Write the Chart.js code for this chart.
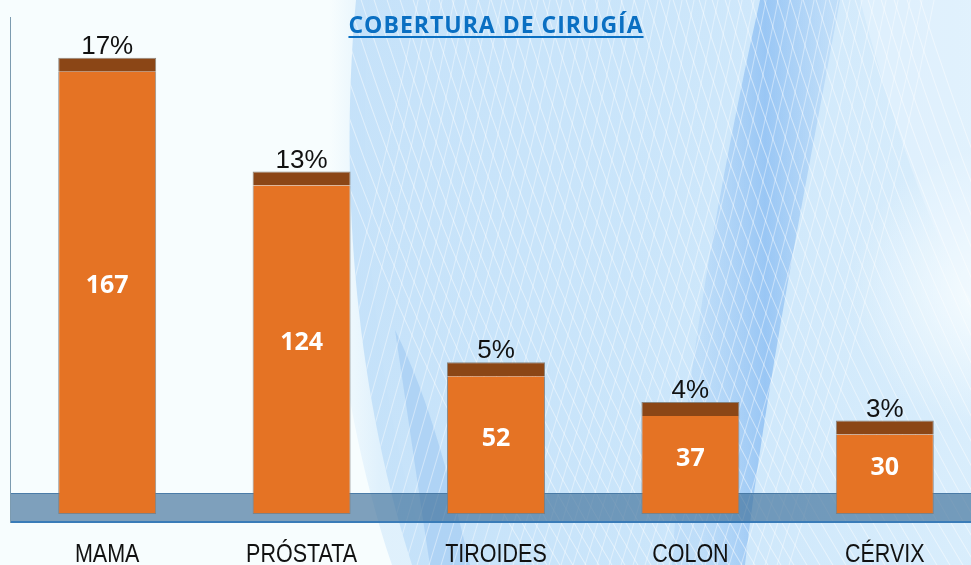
<!DOCTYPE html>
<html>
<head>
<meta charset="utf-8">
<script src="https://cdn.jsdelivr.net/npm/chart.js@4/dist/chart.umd.min.js"></script>
<style>
  html, body { margin: 0; padding: 0; background: #f7fdfe; overflow: hidden; }
  #wrap { width: 971px; height: 565px; overflow: hidden; }
  canvas { display: block; }
</style>
</head>
<body>
<div id="wrap"><canvas id="c" width="982" height="565"></canvas></div>
<script>
// Surgery coverage by cancer site
const categories = ['MAMA', 'PRÓSTATA', 'TIROIDES', 'COLON', 'CÉRVIX'];
const cases = [167, 124, 52, 37, 30];
const shares = ['17%', '13%', '5%', '4%', '3%'];
const chartTitle = 'COBERTURA DE CIRUGÍA';

// decorative top cap on each column (axis units)
const CAP = 5.3;

// light blue ribbon backdrop
function paintBackdrop(ctx, w, h) {
  ctx.save();
  ctx.fillStyle = '#f7fdfe';
  ctx.fillRect(0, 0, w, h);

  // soft fade-in on the left edge of the sheet
  const edge = ctx.createLinearGradient(330, 0, 380, 0);
  edge.addColorStop(0, 'rgba(200,228,250,0)');
  edge.addColorStop(1, 'rgba(200,228,250,0.5)');
  ctx.beginPath();
  ctx.moveTo(330, 0);
  ctx.bezierCurveTo(318, 170, 330, 380, 392, h);
  ctx.lineTo(430, h);
  ctx.bezierCurveTo(370, 380, 356, 170, 370, 0);
  ctx.closePath();
  ctx.fillStyle = edge;
  ctx.fill();

  // main sheet
  ctx.beginPath();
  ctx.moveTo(356, 0);
  ctx.bezierCurveTo(340, 170, 352, 380, 412, h);
  ctx.lineTo(w, h);
  ctx.lineTo(w, 0);
  ctx.closePath();
  const g = ctx.createLinearGradient(350, 0, w, 0);
  g.addColorStop(0, 'rgba(194,224,249,0.92)');
  g.addColorStop(0.45, 'rgba(198,227,250,0.92)');
  g.addColorStop(1, 'rgba(214,236,252,0.9)');
  ctx.fillStyle = g;
  ctx.fill();
  ctx.save();
  ctx.clip();

  // paler right side
  const pale = ctx.createRadialGradient(990, 290, 10, 990, 290, 140);
  pale.addColorStop(0, 'rgba(248,253,255,0.9)');
  pale.addColorStop(1, 'rgba(248,253,255,0)');
  ctx.fillStyle = pale;
  ctx.fillRect(830, 100, 170, 380);
  ctx.beginPath();
  ctx.moveTo(860, 0);
  ctx.bezierCurveTo(900, 150, 940, 260, 990, 330);
  ctx.lineTo(990, 0);
  ctx.closePath();
  ctx.fillStyle = 'rgba(236,247,254,0.45)';
  ctx.fill();

  // darker diagonal ribbon
  const rib = ctx.createLinearGradient(700, 0, 830, 0);
  rib.addColorStop(0, 'rgba(110,170,238,0.15)');
  rib.addColorStop(0.5, 'rgba(100,165,238,0.5)');
  rib.addColorStop(1, 'rgba(110,170,238,0.2)');
  ctx.beginPath();
  ctx.moveTo(760, 0);
  ctx.lineTo(840, 0);
  ctx.bezierCurveTo(805, 190, 765, 390, 745, h);
  ctx.lineTo(672, h);
  ctx.bezierCurveTo(684, 380, 720, 180, 760, 0);
  ctx.closePath();
  ctx.fillStyle = rib;
  ctx.fill();

  // streak near the left edge
  ctx.beginPath();
  ctx.moveTo(395, 330);
  ctx.bezierCurveTo(410, 430, 420, 500, 430, h);
  ctx.lineTo(470, h);
  ctx.bezierCurveTo(450, 480, 430, 400, 395, 330);
  ctx.closePath();
  ctx.fillStyle = 'rgba(120,175,235,0.3)';
  ctx.fill();

  // fine mesh of white strands
  ctx.lineWidth = 1.1;
  ctx.strokeStyle = 'rgba(255,255,255,0.45)';
  for (let i = 0; i < 50; i++) {
    const x0 = 280 + i * 13;
    ctx.beginPath();
    ctx.moveTo(x0, -10);
    ctx.bezierCurveTo(x0 + 60, 180, x0 + 140, 380, x0 + 260, h + 10);
    ctx.stroke();
  }
  ctx.strokeStyle = 'rgba(255,255,255,0.4)';
  for (let i = 0; i < 44; i++) {
    const x0 = 420 + i * 12;
    ctx.beginPath();
    ctx.moveTo(x0, -10);
    ctx.bezierCurveTo(x0 - 40, 200, x0 - 90, 380, x0 - 150, h + 10);
    ctx.stroke();
  }
  ctx.restore();
  ctx.restore();
}

const ribbonPlugin = {
  id: 'ribbon',
  beforeDraw(chart) {
    paintBackdrop(chart.ctx, chart.width, chart.height);
  },
  beforeDatasetsDraw(chart) {
    const ctx = chart.ctx;
    const y0 = chart.scales.y.getPixelForValue(0);
    const left = chart.chartArea.left;
    ctx.save();
    // floor slab
    ctx.fillStyle = 'rgba(58,108,150,0.64)';
    ctx.fillRect(left, y0 - 21, chart.width - left, 30);
    ctx.strokeStyle = 'rgba(70,120,165,0.9)';
    ctx.lineWidth = 1;
    ctx.beginPath();
    ctx.moveTo(left, y0 - 20.5);
    ctx.lineTo(chart.width, y0 - 20.5);
    ctx.stroke();
    ctx.strokeStyle = '#3a7cb8';
    ctx.lineWidth = 2;
    ctx.beginPath();
    ctx.moveTo(left, y0 + 8);
    ctx.lineTo(chart.width, y0 + 8);
    ctx.stroke();
    // vertical wall edge
    ctx.strokeStyle = '#7c9bb0';
    ctx.lineWidth = 1;
    ctx.beginPath();
    ctx.moveTo(left + 0.5, 17);
    ctx.lineTo(left + 0.5, y0 + 9);
    ctx.stroke();
    ctx.restore();
  },
  afterDatasetsDraw(chart) {
    const ctx = chart.ctx;
    const y0 = chart.scales.y.getPixelForValue(0);
    const xs = chart.scales.x;
    const body = chart.getDatasetMeta(0).data;
    const caps = chart.getDatasetMeta(1).data;
    ctx.save();
    ctx.textAlign = 'center';
    body.forEach((bar, i) => {
      ctx.fillStyle = '#ffffff';
      ctx.font = '700 25px "Open Sans"';
      ctx.textBaseline = 'middle';
      ctx.fillText(String(cases[i]), bar.x, (bar.y + y0 - 21) / 2 + 4);
      ctx.fillStyle = '#111111';
      ctx.font = '26px "Liberation Sans"';
      ctx.textBaseline = 'alphabetic';
      ctx.fillText(shares[i], caps[i].x, caps[i].y - 4);
    });
    // category names under the floor, in a condensed face
    ctx.fillStyle = '#111111';
    ctx.font = '25px "Liberation Sans"';
    ctx.textBaseline = 'alphabetic';
    categories.forEach((name, i) => {
      const x = xs.getPixelForValue(i);
      ctx.save();
      ctx.translate(x, 562);
      ctx.scale(0.86, 1);
      ctx.fillText(name, 0, 0);
      ctx.restore();
    });
    ctx.restore();
  },
  afterDraw(chart) {
    const ctx = chart.ctx;
    ctx.save();
    ctx.font = '700 23px "Open Sans"';
    ctx.letterSpacing = '1px';
    ctx.fillStyle = '#0a6fc2';
    ctx.textAlign = 'center';
    ctx.textBaseline = 'alphabetic';
    const cx = 496;
    ctx.fillText(chartTitle, cx, 33);
    const w = ctx.measureText(chartTitle).width;
    ctx.fillRect(cx - w / 2, 36, w, 2);
    ctx.restore();
  }
};

new Chart(document.getElementById('c'), {
  type: 'bar',
  data: {
    labels: categories,
    datasets: [
      {
        data: cases,
        backgroundColor: '#e57324',
        borderColor: 'rgba(125,125,125,0.85)',
        borderWidth: 1,
        borderSkipped: 'top',
        categoryPercentage: 1,
        barPercentage: 0.504
      },
      {
        data: categories.map(() => CAP),
        backgroundColor: '#8b4616',
        borderColor: 'rgba(125,115,105,0.85)',
        borderWidth: 1,
        borderSkipped: 'bottom',
        categoryPercentage: 1,
        barPercentage: 0.504
      }
    ]
  },
  options: {
    responsive: false,
    animation: false,
    devicePixelRatio: 1,
    layout: { padding: { left: 10, right: 0, top: 32, bottom: 51 } },
    plugins: {
      legend: { display: false },
      tooltip: { enabled: false },
      title: { display: false }
    },
    scales: {
      x: {
        stacked: true,
        display: false
      },
      y: {
        stacked: true,
        display: false,
        min: 0,
        max: 182
      }
    }
  },
  plugins: [ribbonPlugin]
});
</script>
</body>
</html>
